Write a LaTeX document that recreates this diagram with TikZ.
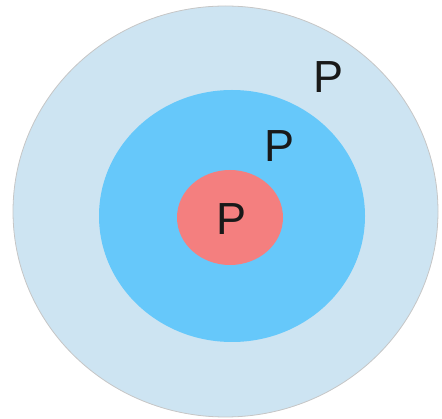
\documentclass[tikz,border=0pt]{standalone}
\usepackage{fontspec}
\setmainfont{Liberation Sans}
\usepackage{tikz}
\definecolor{outerblue}{HTML}{CDE4F2}
\definecolor{midblue}{HTML}{66C8FA}
\definecolor{corered}{HTML}{F47F7F}
\begin{document}
\begin{tikzpicture}[x=1pt,y=-1pt,
  lbl/.style={font=\fontsize{45}{45}\selectfont,text=black!90,inner sep=0pt,anchor=center}]
  \useasboundingbox (0,0) rectangle (442,419);
  \fill[outerblue,draw=gray!45,line width=0.8pt] (225.5,211.5) ellipse [x radius=212.5,y radius=205.5];
  \fill[midblue] (232,216) ellipse [x radius=133,y radius=126];
  \fill[corered] (230,217.5) ellipse [x radius=53,y radius=47.5];
  \node[lbl] (pout) at (329,77) {P};
  \node[lbl] (pmid) at (280,146) {P};
  \node[lbl] (pcore) at (232,219.5) {P};
\end{tikzpicture}
\end{document}
